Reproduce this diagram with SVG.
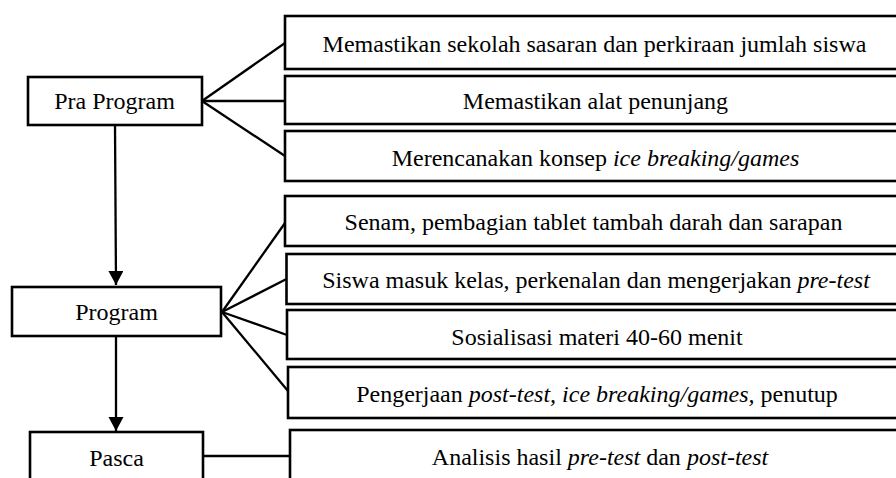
<svg xmlns="http://www.w3.org/2000/svg" width="896" height="478" viewBox="0 0 896 478">
<style>
.box{fill:#fff;stroke:#000;stroke-width:2.6}
.t{font-family:"Liberation Serif","Times New Roman",serif;font-size:24px;fill:#000;text-anchor:middle}
.i{font-style:italic}
.c{stroke:#000;stroke-width:2.3;fill:none}
</style>
<defs>
<marker id="ah" markerUnits="userSpaceOnUse" markerWidth="16" markerHeight="16" refX="14" refY="7.5" orient="auto">
<path d="M0,0 L14,7.5 L0,15 z" fill="#000"/>
</marker>
</defs>
<rect width="896" height="478" fill="#fff"/>
<g id="connectors">
<line class="c" x1="202" y1="101" x2="285" y2="43"/>
<line class="c" x1="202" y1="101" x2="285" y2="101"/>
<line class="c" x1="202" y1="101" x2="285" y2="156"/>
<line class="c" x1="222" y1="312" x2="285" y2="223"/>
<line class="c" x1="222" y1="312" x2="286.5" y2="279"/>
<line class="c" x1="222" y1="312" x2="287" y2="335"/>
<line class="c" x1="222" y1="312" x2="288" y2="391"/>
<line class="c" x1="204" y1="456" x2="290" y2="456"/>
<line class="c" x1="115" y1="125" x2="116" y2="285" marker-end="url(#ah)"/>
<line class="c" x1="116" y1="337" x2="116" y2="431" marker-end="url(#ah)"/>
</g>
<g id="pra-program">
<rect class="box" x="28" y="77" width="174" height="48"/>
<text class="t" x="114.5" y="109">Pra Program</text>
</g>
<g id="program">
<rect class="box" x="12" y="287" width="209" height="49"/>
<text class="t" x="116.5" y="320">Program</text>
</g>
<g id="pasca">
<rect class="box" x="30" y="432" width="173" height="100"/>
<text class="t" x="116.5" y="465.5">Pasca</text>
</g>
<g id="pra1">
<rect class="box" x="285" y="16" width="640" height="53"/>
<text class="t" x="594.5" y="52">Memastikan sekolah sasaran dan perkiraan jumlah siswa</text>
</g>
<g id="pra2">
<rect class="box" x="285" y="76" width="640" height="48"/>
<text class="t" x="595.5" y="108.5">Memastikan alat penunjang</text>
</g>
<g id="pra3">
<rect class="box" x="285" y="131" width="640" height="50"/>
<text class="t" x="595.5" y="166">Merencanakan konsep <tspan class="i">ice breaking/games</tspan></text>
</g>
<g id="prog1">
<rect class="box" x="285" y="196" width="640" height="50"/>
<text class="t" x="593.5" y="230">Senam, pembagian tablet tambah darah dan sarapan</text>
</g>
<g id="prog2">
<rect class="box" x="286.5" y="254" width="640" height="50"/>
<text class="t" x="596" y="288">Siswa masuk kelas, perkenalan dan mengerjakan <tspan class="i">pre-test</tspan></text>
</g>
<g id="prog3">
<rect class="box" x="287" y="310" width="640" height="49"/>
<text class="t" x="597" y="345">Sosialisasi materi 40-60 menit</text>
</g>
<g id="prog4">
<rect class="box" x="288" y="367" width="640" height="51"/>
<text class="t" x="597" y="402">Pengerjaan <tspan class="i">post-test, ice breaking/games,</tspan> penutup</text>
</g>
<g id="pasca1">
<rect class="box" x="290" y="430" width="640" height="100"/>
<text class="t" x="600" y="465">Analisis hasil <tspan class="i">pre-test</tspan> dan <tspan class="i">post-test</tspan></text>
</g>
</svg>
